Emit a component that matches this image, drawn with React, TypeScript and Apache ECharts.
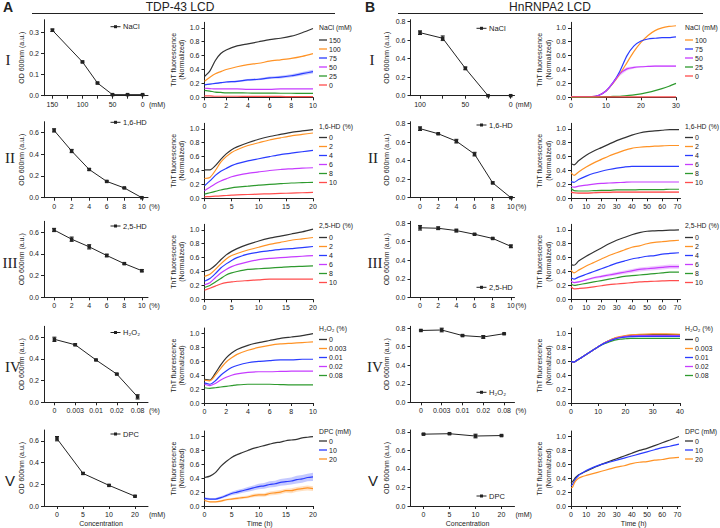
import React, { useEffect, useRef } from "react";
import * as echarts from "echarts";

// ======================= DATA =======================
// ---- Panel A (TDP-43 LCD): turbidity OD600
const A1_OD_X = [150, 100, 75, 50, 25, 0];
const A1_OD_Y = [0.31, 0.16, 0.06, 0.005, 0.005, 0.005];
const A1_OD_ERR = [0.006, 0.004, 0.004, 0.002, 0.002, 0.002];
const A1_X_LABELS = [150, 100, 50, 0];
const A1_X_TICKS = [150, 125, 100, 75, 50, 25, 0];

const A2_OD_X = [0, 2, 4, 6, 8, 10];
const A2_OD_Y = [0.62, 0.43, 0.26, 0.15, 0.09, 0.0];
const A2_OD_ERR = [0.015, 0.015, 0.008, 0.006, 0.005, 0.005];

const A3_OD_X = [0, 2, 4, 6, 8, 10];
const A3_OD_Y = [0.62, 0.535, 0.465, 0.385, 0.31, 0.245];
const A3_OD_ERR = [0.015, 0.02, 0.02, 0.012, 0.006, 0.01];

const A4_OD_X = ["0", "0.003", "0.01", "0.02", "0.08"];
const A4_OD_Y = [0.58, 0.53, 0.39, 0.26, 0.05];
const A4_OD_ERR = [0.02, 0.008, 0.006, 0.006, 0.02];

const A5_OD_X = ["0", "5", "10", "20"];
const A5_OD_Y = [0.62, 0.3, 0.19, 0.09];
const A5_OD_ERR = [0.02, 0.008, 0.006, 0.006];

// ---- Panel B (HnRNPA2 LCD): turbidity OD600
const B1_OD_X = [100, 75, 50, 25, 0];
const B1_OD_Y = [0.68, 0.62, 0.295, 0.0, 0.0];
const B1_OD_ERR = [0.02, 0.025, 0.015, 0.005, 0.005];
const B1_X_LABELS = [100, 50, 0];
const B1_X_TICKS = [100, 75, 50, 25, 0];

const B2_OD_X = [0, 2, 4, 6, 8, 10];
const B2_OD_Y = [0.745, 0.69, 0.61, 0.47, 0.16, 0.0];
const B2_OD_ERR = [0.02, 0.006, 0.02, 0.02, 0.01, 0.01];

const B3_OD_X = [0, 2, 4, 6, 8, 10];
const B3_OD_Y = [0.75, 0.745, 0.72, 0.68, 0.635, 0.55];
const B3_OD_ERR = [0.025, 0.015, 0.015, 0.006, 0.006, 0.015];

const B4_OD_X = ["0", "0.003", "0.01", "0.02", "0.08"];
const B4_OD_Y = [0.775, 0.78, 0.72, 0.705, 0.74];
const B4_OD_ERR = [0.006, 0.02, 0.006, 0.015, 0.006];

const B5_OD_X = ["0", "5", "10", "20"];
const B5_OD_Y = [0.775, 0.78, 0.755, 0.76];
const B5_OD_ERR = [0.006, 0.006, 0.02, 0.006];

const HD_X_TICKS = [0, 2, 4, 6, 8, 10];
const OD_Y_TICKS_A1 = [0, 0.1, 0.2, 0.3];
const OD_Y_TICKS_A = [0, 0.2, 0.4, 0.6];
const OD_Y_TICKS_B = [0, 0.2, 0.4, 0.6, 0.8];

// ---- ThT kinetics, Panel A
const A1_T = [0, 0.5, 1, 1.5, 2, 3, 4, 5, 6, 7, 8, 9, 10];
const A1_CONC = ["150", "100", "75", "50", "25", "0"];
const A1_150 = [0.3, 0.38, 0.53, 0.63, 0.68, 0.74, 0.77, 0.8, 0.83, 0.85, 0.88, 0.93, 0.99];
const A1_100 = [0.23, 0.29, 0.34, 0.37, 0.4, 0.44, 0.47, 0.49, 0.52, 0.54, 0.56, 0.59, 0.63];
const A1_75 = [0.18, 0.19, 0.2, 0.21, 0.22, 0.23, 0.25, 0.26, 0.28, 0.29, 0.31, 0.34, 0.37];
const A1_75_SD = [0.005, 0.006, 0.008, 0.01, 0.01, 0.012, 0.014, 0.016, 0.018, 0.02, 0.022, 0.025, 0.028];
const A1_50 = [0.13, 0.125, 0.12, 0.12, 0.12, 0.12, 0.115, 0.115, 0.115, 0.12, 0.12, 0.12, 0.12];
const A1_25 = [0.1, 0.09, 0.075, 0.07, 0.065, 0.063, 0.062, 0.06, 0.06, 0.058, 0.058, 0.057, 0.057];
const A1_0 = [0.02, 0.02, 0.015, 0.015, 0.015, 0.015, 0.012, 0.012, 0.012, 0.012, 0.01, 0.01, 0.01];

const A23_T = [0, 1, 2, 3, 4, 5, 6, 8, 10, 12, 14, 16, 18, 20];
const HD_CONC = ["0", "2", "4", "6", "8", "10"];
const A2_0 = [0.41, 0.41, 0.47, 0.56, 0.64, 0.7, 0.74, 0.8, 0.85, 0.89, 0.92, 0.95, 0.97, 0.99];
const A2_2 = [0.285, 0.3, 0.4, 0.52, 0.6, 0.66, 0.7, 0.76, 0.8, 0.84, 0.87, 0.9, 0.92, 0.94];
const A2_4 = [0.18, 0.25, 0.33, 0.39, 0.43, 0.47, 0.5, 0.54, 0.57, 0.6, 0.63, 0.65, 0.67, 0.69];
const A2_6 = [0.11, 0.16, 0.21, 0.25, 0.28, 0.31, 0.33, 0.36, 0.38, 0.4, 0.415, 0.425, 0.435, 0.44];
const A2_8 = [0.06, 0.08, 0.1, 0.12, 0.135, 0.15, 0.16, 0.175, 0.19, 0.2, 0.21, 0.22, 0.225, 0.23];
const A2_10 = [0.02, 0.025, 0.03, 0.035, 0.04, 0.045, 0.05, 0.055, 0.06, 0.065, 0.07, 0.075, 0.08, 0.085];

const A3_0 = [0.41, 0.43, 0.49, 0.57, 0.64, 0.69, 0.73, 0.79, 0.84, 0.88, 0.91, 0.94, 0.97, 1.01];
const A3_2 = [0.33, 0.36, 0.43, 0.51, 0.58, 0.63, 0.66, 0.71, 0.75, 0.79, 0.82, 0.85, 0.87, 0.89];
const A3_4 = [0.26, 0.3, 0.37, 0.45, 0.51, 0.56, 0.6, 0.65, 0.68, 0.7, 0.72, 0.73, 0.745, 0.76];
const A3_6 = [0.21, 0.24, 0.31, 0.38, 0.43, 0.47, 0.5, 0.54, 0.57, 0.59, 0.6, 0.61, 0.62, 0.63];
const A3_8 = [0.17, 0.2, 0.25, 0.3, 0.35, 0.38, 0.4, 0.43, 0.44, 0.45, 0.46, 0.47, 0.475, 0.48];
const A3_10 = [0.13, 0.16, 0.19, 0.22, 0.24, 0.25, 0.26, 0.27, 0.28, 0.29, 0.29, 0.29, 0.29, 0.29];

const A4_T = [0, 0.5, 1, 1.5, 2, 2.5, 3, 4, 5, 6, 7, 8, 9, 10];
const H2O2_CONC = ["0", "0.003", "0.01", "0.02", "0.08"];
const A4_0 = [0.34, 0.33, 0.43, 0.55, 0.65, 0.72, 0.77, 0.83, 0.87, 0.9, 0.93, 0.95, 0.97, 1.0];
const A4_003 = [0.33, 0.32, 0.4, 0.5, 0.59, 0.65, 0.7, 0.76, 0.8, 0.83, 0.85, 0.86, 0.87, 0.88];
const A4_01 = [0.29, 0.27, 0.32, 0.4, 0.46, 0.51, 0.54, 0.58, 0.6, 0.61, 0.62, 0.62, 0.63, 0.63];
const A4_02 = [0.27, 0.25, 0.28, 0.33, 0.37, 0.4, 0.42, 0.44, 0.45, 0.45, 0.455, 0.46, 0.46, 0.46];
const A4_08 = [0.22, 0.21, 0.22, 0.23, 0.24, 0.25, 0.26, 0.27, 0.27, 0.27, 0.265, 0.26, 0.26, 0.26];

const A5_T = [0, 1, 2, 3, 4, 5, 6, 7, 8, 9, 10, 11, 12, 13, 14, 15, 16, 17, 18, 19, 20];
const DPC_CONC = ["0", "10", "20"];
const A5_0 = [0.41, 0.43, 0.48, 0.57, 0.64, 0.7, 0.74, 0.77, 0.8, 0.83, 0.85, 0.87, 0.89, 0.91, 0.92, 0.94, 0.95, 0.96, 0.98, 0.99, 1.0];
const A5_10 = [0.11, 0.1, 0.1, 0.12, 0.15, 0.18, 0.2, 0.22, 0.24, 0.26, 0.28, 0.29, 0.31, 0.32, 0.34, 0.35, 0.36, 0.38, 0.39, 0.41, 0.42];
const A5_10_SD = [0.015, 0.015, 0.015, 0.02, 0.02, 0.025, 0.03, 0.03, 0.035, 0.035, 0.04, 0.04, 0.045, 0.045, 0.05, 0.05, 0.05, 0.055, 0.055, 0.055, 0.06];
const A5_20 = [0.08, 0.06, 0.06, 0.07, 0.09, 0.1, 0.11, 0.12, 0.13, 0.15, 0.16, 0.16, 0.18, 0.19, 0.2, 0.22, 0.22, 0.24, 0.25, 0.26, 0.25];
const A5_20_SD = [0.01, 0.01, 0.01, 0.015, 0.015, 0.015, 0.02, 0.02, 0.02, 0.025, 0.025, 0.025, 0.03, 0.03, 0.03, 0.03, 0.035, 0.035, 0.035, 0.035, 0.035];

// ---- ThT kinetics, Panel B
const B1_T = [0, 2, 4, 6, 8, 10, 12, 14, 16, 18, 20, 22, 24, 26, 28, 30];
const B1_CONC = ["100", "75", "50", "25", "0"];
const B1_100 = [0.01, 0.01, 0.01, 0.01, 0.03, 0.09, 0.2, 0.34, 0.5, 0.66, 0.79, 0.89, 0.96, 1.0, 1.02, 1.03];
const B1_75 = [0.01, 0.01, 0.01, 0.01, 0.03, 0.09, 0.21, 0.38, 0.6, 0.74, 0.81, 0.84, 0.85, 0.86, 0.86, 0.87];
const B1_50 = [0.01, 0.01, 0.01, 0.01, 0.03, 0.09, 0.21, 0.34, 0.41, 0.43, 0.44, 0.445, 0.45, 0.45, 0.45, 0.45];
const B1_50_SD = [0, 0, 0, 0, 0.005, 0.01, 0.02, 0.03, 0.025, 0.015, 0.01, 0.01, 0.01, 0.01, 0.01, 0.01];
const B1_25 = [0, 0, 0, 0, 0.005, 0.01, 0.012, 0.015, 0.025, 0.035, 0.05, 0.07, 0.095, 0.125, 0.16, 0.2];
const B1_0 = [0.005, 0.005, 0.005, 0.005, 0.005, 0.005, 0.005, 0.005, 0.005, 0.005, 0.005, 0.005, 0.005, 0.005, 0.005, 0.005];

const B23_T = [0, 2, 5, 10, 15, 20, 25, 30, 35, 40, 45, 50, 55, 60, 65, 71];
const B2_0 = [0.5, 0.48, 0.54, 0.62, 0.68, 0.73, 0.78, 0.83, 0.87, 0.91, 0.94, 0.96, 0.97, 0.98, 0.99, 0.99];
const B2_2 = [0.37, 0.33, 0.38, 0.45, 0.51, 0.56, 0.61, 0.65, 0.69, 0.72, 0.735, 0.745, 0.75, 0.755, 0.76, 0.76];
const B2_4 = [0.24, 0.23, 0.27, 0.32, 0.36, 0.39, 0.415, 0.435, 0.45, 0.46, 0.46, 0.46, 0.46, 0.46, 0.46, 0.46];
const B2_6 = [0.17, 0.16, 0.175, 0.19, 0.205, 0.215, 0.22, 0.225, 0.23, 0.235, 0.235, 0.235, 0.235, 0.235, 0.235, 0.235];
const B2_8 = [0.14, 0.11, 0.105, 0.105, 0.11, 0.115, 0.115, 0.12, 0.12, 0.12, 0.125, 0.125, 0.125, 0.125, 0.13, 0.13];
const B2_10 = [0.09, 0.08, 0.075, 0.075, 0.08, 0.085, 0.085, 0.09, 0.09, 0.09, 0.09, 0.09, 0.09, 0.09, 0.09, 0.09];
const B2_10_SD = [0.012, 0.012, 0.012, 0.012, 0.012, 0.012, 0.012, 0.012, 0.012, 0.012, 0.012, 0.012, 0.012, 0.012, 0.012, 0.012];

const B3_0 = [0.5, 0.49, 0.55, 0.62, 0.68, 0.74, 0.8, 0.85, 0.89, 0.93, 0.96, 0.98, 0.985, 0.99, 0.995, 1.0];
const B3_2 = [0.42, 0.38, 0.42, 0.48, 0.53, 0.58, 0.63, 0.67, 0.71, 0.75, 0.77, 0.8, 0.82, 0.83, 0.84, 0.85];
const B3_4 = [0.31, 0.29, 0.32, 0.36, 0.4, 0.44, 0.48, 0.52, 0.55, 0.58, 0.6, 0.62, 0.63, 0.65, 0.66, 0.67];
const B3_6 = [0.26, 0.24, 0.25, 0.28, 0.31, 0.33, 0.35, 0.37, 0.39, 0.41, 0.43, 0.44, 0.45, 0.46, 0.47, 0.47];
const B3_6_SD = [0.01, 0.01, 0.012, 0.014, 0.016, 0.018, 0.02, 0.022, 0.024, 0.026, 0.028, 0.03, 0.03, 0.03, 0.03, 0.03];
const B3_8 = [0.22, 0.2, 0.21, 0.23, 0.25, 0.27, 0.29, 0.31, 0.33, 0.34, 0.35, 0.36, 0.37, 0.38, 0.39, 0.39];
const B3_10 = [0.18, 0.15, 0.155, 0.165, 0.18, 0.195, 0.21, 0.22, 0.23, 0.24, 0.25, 0.255, 0.26, 0.265, 0.27, 0.27];

const B4_T = [0, 1, 2, 4, 6, 8, 10, 12, 14, 16, 18, 20, 22, 25, 30, 35, 40];
const B4_0 = [0.6, 0.59, 0.61, 0.66, 0.71, 0.76, 0.81, 0.86, 0.9, 0.93, 0.95, 0.965, 0.975, 0.98, 0.985, 0.985, 0.985];
const B4_003 = [0.6, 0.59, 0.61, 0.66, 0.71, 0.76, 0.81, 0.86, 0.9, 0.935, 0.955, 0.97, 0.98, 0.99, 0.995, 0.995, 0.99];
const B4_01 = [0.6, 0.59, 0.61, 0.66, 0.71, 0.76, 0.81, 0.855, 0.89, 0.92, 0.94, 0.95, 0.955, 0.96, 0.96, 0.96, 0.96];
const B4_02 = [0.6, 0.59, 0.61, 0.66, 0.71, 0.76, 0.81, 0.86, 0.895, 0.925, 0.945, 0.96, 0.965, 0.97, 0.97, 0.97, 0.97];
const B4_08 = [0.6, 0.59, 0.61, 0.66, 0.71, 0.76, 0.81, 0.85, 0.88, 0.905, 0.92, 0.925, 0.93, 0.93, 0.93, 0.93, 0.93];

const B5_T = [0, 1, 2, 3, 5, 7, 10, 15, 20, 25, 30, 35, 40, 45, 50, 55, 60, 65, 71];
const B5_0 = [0.33, 0.35, 0.38, 0.41, 0.45, 0.47, 0.5, 0.55, 0.6, 0.64, 0.68, 0.72, 0.76, 0.8, 0.83, 0.87, 0.91, 0.95, 1.0];
const B5_10 = [0.29, 0.31, 0.35, 0.39, 0.44, 0.47, 0.51, 0.56, 0.6, 0.63, 0.66, 0.69, 0.72, 0.75, 0.78, 0.81, 0.84, 0.86, 0.89];
const B5_20 = [0.26, 0.27, 0.32, 0.36, 0.4, 0.42, 0.44, 0.47, 0.5, 0.53, 0.56, 0.58, 0.61, 0.63, 0.64, 0.66, 0.67, 0.69, 0.7];

const THT_Y_TICKS = [0, 0.2, 0.4, 0.6, 0.8, 1.0];
const X_TICKS_10 = [0, 2, 4, 6, 8, 10];
const X_TICKS_20 = [0, 5, 10, 15, 20];
const X_TICKS_30 = [0, 10, 20, 30];
const X_TICKS_40 = [0, 10, 20, 30, 40];
const X_TICKS_70 = [0, 10, 20, 30, 40, 50, 60, 70];

// ======================= STYLE / LAYOUT =======================
const FONT = "'Liberation Sans', Arial, Helvetica, sans-serif";
const SERIF = "'Liberation Serif', 'Times New Roman', serif";
const INK = "#222222";
const K = "#333333";
const O = "#ff9326";
const BL = "#2a3cff";
const MG = "#c63cff";
const GR = "#2e9a2e";
const RD = "#ff4d4d";
const FS = 7;

const OD_BOTTOM = [95.7, 197.7, 297.3, 402.3, 506];
const THT_BOTTOM = [97.3, 198.3, 299.3, 403, 506];
const OD_H = 76;
const THT_H = 75;
const OD_LEFT = [44, 410.5];
const OD_W = 104;
const THT_LEFT = [204.5, 571];
const A_THT_W = 108.5;
const B_THT_W = [105, 109.5, 109.5, 109, 109.5];
const LEG_TITLE_Y = [27, 126, 225, 328.5, 431];
const LEG_FIRST_Y = [40, 137.5, 237.5, 339.5, 441];
const LEG_PITCH = 9;
const LEG_X = [319, 685];
const OD_LEG_ICON_X = [110.5, 476.5];
const OD_LEG_Y = [[26.7, 122.3, 226, 332.5, 434], [28.3, 125, 287.3, 392.3, 496]];
const ROMAN = ["I", "II", "III", "IV", "V"];
const ROMAN_X = [[8, 10, 10, 13, 10], [372, 373, 375, 375, 373]];
const ROMAN_Y = [60, 158, 263, 367, 480];

const OD_PANELS: any[] = [
  { row: 0, col: 0, x: A1_OD_X, y: A1_OD_Y, err: A1_OD_ERR, min: -9, max: 164, inverse: true, labels: A1_X_LABELS, ticks: A1_X_TICKS, yMax: 0.36, yTicks: OD_Y_TICKS_A1, legend: "NaCl", unit: "(mM)" },
  { row: 1, col: 0, x: A2_OD_X, y: A2_OD_Y, err: A2_OD_ERR, min: -1.15, max: 10.7, labels: HD_X_TICKS, ticks: HD_X_TICKS, yMax: 0.7, yTicks: OD_Y_TICKS_A, legend: "1,6-HD", unit: "(%)" },
  { row: 2, col: 0, x: A3_OD_X, y: A3_OD_Y, err: A3_OD_ERR, min: -1.15, max: 10.7, labels: HD_X_TICKS, ticks: HD_X_TICKS, yMax: 0.7, yTicks: OD_Y_TICKS_A, legend: "2,5-HD", unit: "(%)" },
  { row: 3, col: 0, x: A4_OD_X, y: A4_OD_Y, err: A4_OD_ERR, yMax: 0.7, yTicks: OD_Y_TICKS_A, legend: "H₂O₂", unit: "(%)" },
  { row: 4, col: 0, x: A5_OD_X, y: A5_OD_Y, err: A5_OD_ERR, yMax: 0.7, yTicks: OD_Y_TICKS_A, legend: "DPC", unit: "(mM)", xName: "Concentration" },
  { row: 0, col: 1, x: B1_OD_X, y: B1_OD_Y, err: B1_OD_ERR, min: -4.2, max: 110.5, inverse: true, labels: B1_X_LABELS, ticks: B1_X_TICKS, yMax: 0.82, yTicks: OD_Y_TICKS_B, legend: "NaCl", unit: "(mM)" },
  { row: 1, col: 1, x: B2_OD_X, y: B2_OD_Y, err: B2_OD_ERR, min: -1.05, max: 10.4, labels: HD_X_TICKS, ticks: HD_X_TICKS, yMax: 0.82, yTicks: OD_Y_TICKS_B, legend: "1,6-HD", unit: "(%)" },
  { row: 2, col: 1, x: B3_OD_X, y: B3_OD_Y, err: B3_OD_ERR, min: -1.05, max: 10.4, labels: HD_X_TICKS, ticks: HD_X_TICKS, yMax: 0.82, yTicks: OD_Y_TICKS_B, legend: "2,5-HD", unit: "(%)" },
  { row: 3, col: 1, x: B4_OD_X, y: B4_OD_Y, err: B4_OD_ERR, yMax: 0.82, yTicks: OD_Y_TICKS_B, legend: "H₂O₂", unit: "(%)" },
  { row: 4, col: 1, x: B5_OD_X, y: B5_OD_Y, err: B5_OD_ERR, yMax: 0.82, yTicks: OD_Y_TICKS_B, legend: "DPC", unit: "(mM)", xName: "Concentration" },
];

const THT_PANELS: any[] = [
  { row: 0, col: 0, t: A1_T, labels: A1_CONC, colors: [K, O, BL, MG, GR, RD], ys: [A1_150, A1_100, A1_75, A1_50, A1_25, A1_0], sds: [null, null, A1_75_SD, null, null, null], xMax: 10, xTicks: X_TICKS_10, title: "NaCl (mM)" },
  { row: 1, col: 0, t: A23_T, labels: HD_CONC, colors: [K, O, BL, MG, GR, RD], ys: [A2_0, A2_2, A2_4, A2_6, A2_8, A2_10], xMax: 20, xTicks: X_TICKS_20, title: "1,6-HD (%)" },
  { row: 2, col: 0, t: A23_T, labels: HD_CONC, colors: [K, O, BL, MG, GR, RD], ys: [A3_0, A3_2, A3_4, A3_6, A3_8, A3_10], xMax: 20, xTicks: X_TICKS_20, title: "2,5-HD (%)" },
  { row: 3, col: 0, t: A4_T, labels: H2O2_CONC, colors: [K, O, BL, MG, GR], ys: [A4_0, A4_003, A4_01, A4_02, A4_08], xMax: 10, xTicks: X_TICKS_10, title: "H₂O₂ (%)" },
  { row: 4, col: 0, t: A5_T, labels: DPC_CONC, colors: [K, BL, O], ys: [A5_0, A5_10, A5_20], sds: [null, A5_10_SD, A5_20_SD], xMax: 20, xTicks: X_TICKS_20, title: "DPC (mM)", xName: "Time (h)" },
  { row: 0, col: 1, t: B1_T, labels: B1_CONC, colors: [O, BL, MG, GR, RD], ys: [B1_100, B1_75, B1_50, B1_25, B1_0], sds: [null, null, B1_50_SD, null, null], xMax: 30, xTicks: X_TICKS_30, title: "NaCl (mM)" },
  { row: 1, col: 1, t: B23_T, labels: HD_CONC, colors: [K, O, BL, MG, GR, RD], ys: [B2_0, B2_2, B2_4, B2_6, B2_8, B2_10], sds: [null, null, null, null, null, B2_10_SD], xMax: 72, xTicks: X_TICKS_70, title: "1,6-HD (%)" },
  { row: 2, col: 1, t: B23_T, labels: HD_CONC, colors: [K, O, BL, MG, GR, RD], ys: [B3_0, B3_2, B3_4, B3_6, B3_8, B3_10], sds: [null, null, null, B3_6_SD, null, null], xMax: 72, xTicks: X_TICKS_70, title: "2,5-HD (%)" },
  { row: 3, col: 1, t: B4_T, labels: H2O2_CONC, colors: [K, O, BL, MG, GR], ys: [B4_0, B4_003, B4_01, B4_02, B4_08], order: [0, 1, 4, 3, 2], xMax: 40, xTicks: X_TICKS_40, title: "H₂O₂ (%)" },
  { row: 4, col: 1, t: B5_T, labels: DPC_CONC, colors: [K, BL, O], ys: [B5_0, B5_10, B5_20], xMax: 72, xTicks: X_TICKS_70, title: "DPC (mM)", xName: "Time (h)" },
];

function hexA(hex: string, a: number) {
  const n = parseInt(hex.slice(1), 16);
  return `rgba(${(n >> 16) & 255},${(n >> 8) & 255},${n & 255},${a})`;
}

const axisLine = () => ({ show: true, onZero: false, lineStyle: { color: INK, width: 1 } });
const tick = (vals?: any[]) => {
  const o: any = { show: true, length: 3, inside: false, lineStyle: { color: INK, width: 1 } };
  if (vals) o.customValues = vals;
  return o;
};
const label = (vals?: any[], fmt?: any) => {
  const o: any = { show: true, fontSize: FS, color: INK, fontFamily: FONT, margin: 5 };
  if (vals) o.customValues = vals;
  if (fmt) o.formatter = fmt;
  return o;
};
const nameStyle = { fontSize: FS, color: INK, fontFamily: FONT, lineHeight: 8.5 };

function text(x: number, y: number, s: string, extra: any = {}) {
  return {
    type: "text",
    x,
    y,
    silent: true,
    style: {
      text: s,
      fill: INK,
      fontSize: FS,
      fontFamily: FONT,
      align: "left",
      verticalAlign: "middle",
      ...extra,
    },
  };
}

function buildOption() {
  const grids: any[] = [];
  const xAxes: any[] = [];
  const yAxes: any[] = [];
  const series: any[] = [];
  const g: any[] = [];

  // ---------- OD panels
  OD_PANELS.forEach((p) => {
    const gi = grids.length;
    const left = OD_LEFT[p.col];
    const bottom = OD_BOTTOM[p.row];
    const isCat = typeof p.x[0] === "string";
    grids.push({ left, top: bottom - OD_H, width: OD_W, height: OD_H, containLabel: false, outerBoundsMode: "none" });
    const xName = p.xName
      ? { name: p.xName, nameLocation: "middle", nameGap: 10, nameTextStyle: { ...nameStyle, padding: [0, 0, 0, 10] } }
      : {};
    if (isCat) {
      xAxes.push({
        type: "category", gridIndex: gi, data: p.x, boundaryGap: true,
        axisLine: axisLine(), axisTick: { ...tick(), alignWithLabel: true }, axisLabel: { ...label(), interval: 0 },
        splitLine: { show: false }, ...xName,
      });
    } else {
      xAxes.push({
        type: "value", gridIndex: gi, min: p.min, max: p.max, inverse: !!p.inverse,
        axisLine: axisLine(), axisTick: tick(p.ticks), axisLabel: label(p.labels), splitLine: { show: false }, ...xName,
      });
    }
    yAxes.push({
      type: "value", gridIndex: gi, min: 0, max: p.yMax,
      axisLine: axisLine(), axisTick: tick(p.yTicks), axisLabel: label(p.yTicks, (v: number) => v.toFixed(1)),
      splitLine: { show: false },
      name: "OD 600nm (a.u.)", nameLocation: "middle", nameGap: p.col === 0 ? 14 : 20, nameTextStyle: nameStyle,
    });
    const pts = p.y.map((v: number, i: number) => [isCat ? i : p.x[i], v, p.err[i]]);
    series.push({
      type: "line", xAxisIndex: gi, yAxisIndex: gi, silent: true, z: 3,
      data: pts.map((d: number[]) => [d[0], d[1]]),
      symbol: "rect", symbolSize: 3.5, showSymbol: true,
      lineStyle: { color: INK, width: 1 }, itemStyle: { color: INK },
    });
    series.push({
      type: "custom", xAxisIndex: gi, yAxisIndex: gi, silent: true, z: 3, clip: false,
      data: pts, encode: { x: 0, y: 1 },
      renderItem: (_params: any, api: any) => {
        const x = api.value(0), y = api.value(1), e = api.value(2);
        const a = api.coord([x, y + e]);
        const b = api.coord([x, Math.max(0, y - e)]);
        const st = { stroke: INK, lineWidth: 1 };
        return {
          type: "group",
          children: [
            { type: "line", shape: { x1: a[0], y1: a[1], x2: b[0], y2: b[1] }, style: st },
            { type: "line", shape: { x1: a[0] - 2, y1: a[1], x2: a[0] + 2, y2: a[1] }, style: st },
            { type: "line", shape: { x1: b[0] - 2, y1: b[1], x2: b[0] + 2, y2: b[1] }, style: st },
          ],
        };
      },
    });
    // unit label
    g.push(text(left + OD_W + 1, bottom + 8.5, p.unit));
    // legend (line + marker)
    const lx = OD_LEG_ICON_X[p.col];
    const ly = OD_LEG_Y[p.col][p.row];
    g.push({ type: "line", silent: true, shape: { x1: lx, y1: ly, x2: lx + 10, y2: ly }, style: { stroke: INK, lineWidth: 1 } });
    g.push({ type: "rect", silent: true, shape: { x: lx + 3.5, y: ly - 1.5, width: 3, height: 3 }, style: { fill: INK } });
    g.push(text(lx + 12.5, ly, p.legend, { fontSize: 7.5 }));
  });

  // ---------- ThT panels
  THT_PANELS.forEach((p) => {
    const gi = grids.length;
    const left = THT_LEFT[p.col];
    const width = p.col === 0 ? A_THT_W : B_THT_W[p.row];
    const bottom = THT_BOTTOM[p.row];
    grids.push({ left, top: bottom - THT_H, width, height: THT_H, containLabel: false, outerBoundsMode: "none" });
    const xName = p.xName
      ? { name: p.xName, nameLocation: "middle", nameGap: 10, nameTextStyle: { ...nameStyle, padding: [0, 0, 0, p.col === 0 ? 2 : 16] } }
      : {};
    xAxes.push({
      type: "value", gridIndex: gi, min: 0, max: p.xMax,
      axisLine: axisLine(), axisTick: tick(p.xTicks), axisLabel: label(p.xTicks, (v: number) => String(v)),
      splitLine: { show: false }, ...xName,
    });
    yAxes.push({
      type: "value", gridIndex: gi, min: 0, max: 1.08,
      axisLine: axisLine(), axisTick: tick(THT_Y_TICKS), axisLabel: label(THT_Y_TICKS, (v: number) => v.toFixed(1)),
      splitLine: { show: false },
      name: "ThT fluorescence\n(Normalized)", nameLocation: "middle", nameGap: 18, nameTextStyle: nameStyle,
    });
    const order: number[] = p.order || p.labels.map((_: any, i: number) => i);
    order.forEach((ci) => {
      const ys: number[] = p.ys[ci];
      const color = p.colors[ci];
      const sd: number[] | null = p.sds ? p.sds[ci] : null;
      if (sd) {
        const fill = hexA(color, 0.28);
        series.push({
          type: "custom", xAxisIndex: gi, yAxisIndex: gi, silent: true, z: 1, clip: true,
          data: p.t.map((t: number, i: number) => [t, ys[i] - sd[i], ys[i] + sd[i]]),
          encode: { x: 0, y: [1, 2] },
          renderItem: (params: any, api: any) => {
            if (params.dataIndexInside !== 0) return null;
            const n = params.dataInsideLength;
            const top: number[][] = [];
            const bot: number[][] = [];
            for (let j = 0; j < n; j++) {
              const t = api.value(0, j);
              top.push(api.coord([t, api.value(2, j)]));
              bot.push(api.coord([t, api.value(1, j)]));
            }
            return { type: "polygon", shape: { points: top.concat(bot.reverse()) }, style: { fill, stroke: "none" } };
          },
        });
      }
      series.push({
        type: "line", xAxisIndex: gi, yAxisIndex: gi, silent: true, z: 2, symbol: "none", smooth: 0.25,
        data: p.t.map((t: number, i: number) => [t, ys[i]]),
        lineStyle: { color, width: 1.2 },
        itemStyle: { color },
      });
    });
    // legend
    const lx = LEG_X[p.col];
    g.push(text(lx, LEG_TITLE_Y[p.row], p.title, { fontSize: 6.8 }));
    p.labels.forEach((lab: string, i: number) => {
      const y = LEG_FIRST_Y[p.row] + i * LEG_PITCH;
      g.push({ type: "line", silent: true, shape: { x1: lx, y1: y, x2: lx + 8, y2: y }, style: { stroke: p.colors[i], lineWidth: 1.3 } });
      g.push(text(lx + 10, y, lab));
    });
  });

  // ---------- headers and row numerals
  g.push(text(3, 7, "A", { fontSize: 14, fontWeight: "bold" }));
  g.push(text(180, 6.5, "TDP-43 LCD", { fontSize: 12, align: "center" }));
  g.push({ type: "line", silent: true, shape: { x1: 32, y1: 13.5, x2: 335, y2: 13.5 }, style: { stroke: INK, lineWidth: 1 } });
  g.push(text(365, 7, "B", { fontSize: 14, fontWeight: "bold" }));
  g.push(text(550, 6.5, "HnRNPA2 LCD", { fontSize: 12, align: "center" }));
  g.push({ type: "line", silent: true, shape: { x1: 398, y1: 13.5, x2: 703, y2: 13.5 }, style: { stroke: INK, lineWidth: 1 } });
  [0, 1].forEach((col) => {
    ROMAN.forEach((r, i) => {
      g.push(text(ROMAN_X[col][i], ROMAN_Y[i], r, {
        fontSize: 15, align: "center", fontFamily: i === 4 ? FONT : SERIF,
      }));
    });
  });

  return {
    animation: false,
    backgroundColor: "#ffffff",
    textStyle: { fontFamily: FONT },
    grid: grids,
    xAxis: xAxes,
    yAxis: yAxes,
    series,
    graphic: { elements: g },
  };
}

export default function App() {
  const ref = useRef<HTMLDivElement>(null);
  useEffect(() => {
    document.body.style.margin = "0";
    const chart = echarts.init(ref.current as HTMLDivElement, null, { renderer: "svg", width: 720, height: 528 });
    chart.setOption(buildOption() as any);
    return () => chart.dispose();
  }, []);
  return <div ref={ref} style={{ width: 720, height: 528 }} />;
}
